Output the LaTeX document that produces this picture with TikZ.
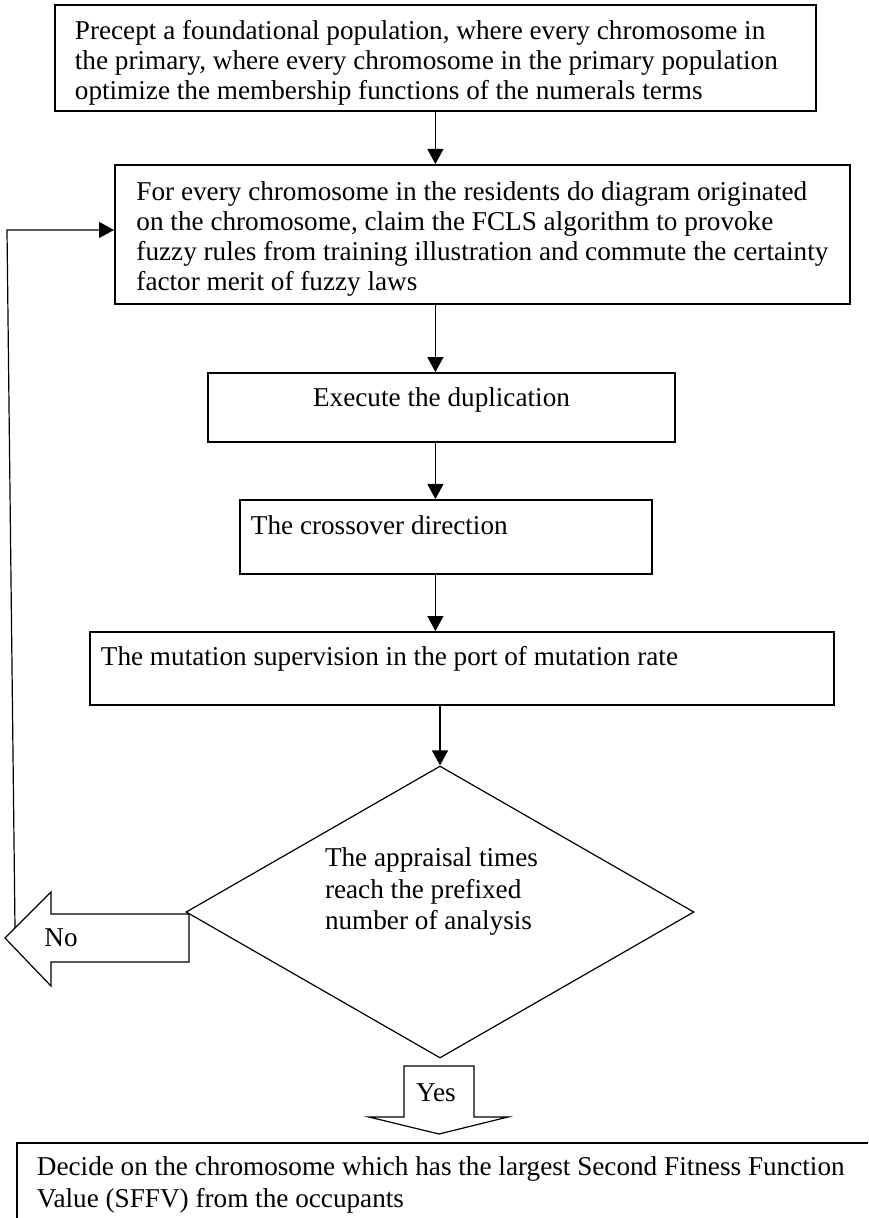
\documentclass[tikz,border=0pt]{standalone}
\usepackage{fontspec}
\setmainfont{Liberation Serif}
\usetikzlibrary{shapes.geometric,arrows.meta}

\begin{document}
\begin{tikzpicture}[x=0.5pt,y=-0.5pt,
  box/.style={draw,line width=0.9pt,align=flush left,inner xsep=10pt,
    font=\fontsize{13.6}{15}\selectfont},
  flow/.style={line width=0.6pt,-{Triangle[length=7.5pt,width=8pt]}},
  block/.style={line width=0.6pt,line join=miter},
  word/.style={font=\fontsize{13.6}{15.5}\selectfont,inner sep=0pt}]
 \clip (0,0) rectangle (868,1218); %描画範囲

 \node[box,anchor=north west,text width=360.5pt,minimum height=53pt,
  text height=10pt,text depth=28.8pt] (init) at (54,4)
  {Precept a foundational population, where every chromosome in\\
   the primary, where every chromosome in the primary population\\
   optimize the membership functions of the numerals terms}; %初期集団
 \node[box,anchor=north west,minimum width=367.5pt,minimum height=69.5pt,
  text height=57pt,text depth=1.3pt] (eval) at (114,164)
  {For every chromosome in the residents do diagram originated\\
   on the chromosome, claim the FCLS algorithm to provoke\\
   fuzzy rules from training illustration and commute the certainty\\
   factor merit of fuzzy laws}; %評価
 \node[box,align=center,minimum width=233.5pt,minimum height=34.5pt,
  text height=9pt,text depth=9.8pt] (dup) at (441.5,407.5) {Execute the duplication}; %複製
 \node[box,anchor=north west,inner xsep=5.5pt,text width=195pt,minimum height=37pt,
  text height=9pt,text depth=11.8pt] (cross) at (239,499)
  {The crossover direction}; %交叉
 \node[box,anchor=north west,inner xsep=5.5pt,text width=361pt,minimum height=36.5pt,
  text height=9pt,text depth=12.3pt] (mut) at (89,631)
  {The mutation supervision in the port of mutation rate}; %突然変異
 \node[draw,diamond,line width=0.6pt,aspect=1.74,minimum width=254pt,minimum height=146pt,
  inner sep=0pt,text width=115pt,align=flush left,text height=5pt,text depth=50.3pt,
  font=\fontsize{13.6}{15.7}\selectfont] (test) at (440,912)
  {The appraisal times\\reach the prefixed\\number of analysis}; %終了判定
 \node[box,anchor=north west,text width=430pt,inner ysep=6.8pt,text depth=30pt,
  font=\fontsize{13.6}{16}\selectfont] (pick) at (16,1142)
  {Decide on the chromosome which has the largest Second Fitness Function\\
   Value (SFFV) from the occupants}; %最良個体

 \draw[flow] (init.south) -- (init.south |- eval.north);
 \draw[flow] (eval.south -| init.south) -- (dup.north -| init.south);
 \draw[flow] (dup.south -| init.south) -- (cross.north -| init.south);
 \draw[flow] (cross.south -| init.south) -- (mut.north -| init.south);
 \draw[flow] (test.north |- mut.south) -- (test.north);

 % No 矢印
 \draw[block] (189,914) -- (51,914) -- (51,892) -- (5,938) -- (51,986) -- (51,962) -- (189,962) -- cycle;
 \node[word] (no) at (61,938) {No};
 \coordinate (back) at (15,928); %戻り始点
 \coordinate (turn) at (7,230); %角
 \draw[flow] (back) -- (turn) -- (turn -| eval.west);

 % Yes 矢印
 \draw[block] (404,1066) -- (474,1066) -- (474,1117) -- (508,1117) -- (439,1134) -- (369,1117) -- (404,1117) -- cycle;
 \node[word] (yes) at (436,1093) {Yes};
\end{tikzpicture}
\end{document}
